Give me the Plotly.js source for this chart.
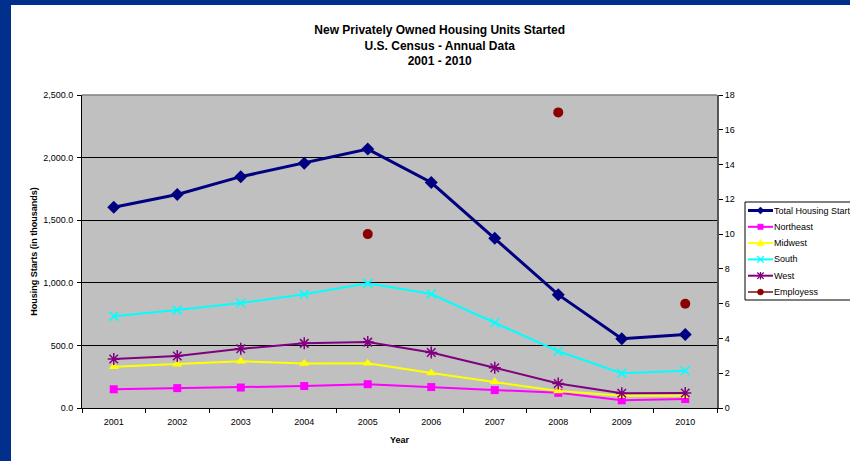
<!DOCTYPE html>
<html>
<head>
<meta charset="utf-8">
<script src="https://cdn.plot.ly/plotly-3.0.1.min.js"></script>
<style>
  html, body { margin: 0; padding: 0; background: #00308C; width: 850px; height: 461px; overflow: hidden; }
  #chart { position: absolute; left: 11px; top: 5px; width: 839px; height: 456px; background: #ffffff; }
</style>
</head>
<body>
<div id="chart"></div>
<script>
// Data (thousands of units; employees on secondary axis)
var years = ['2001','2002','2003','2004','2005','2006','2007','2008','2009','2010'];
var totalStarts = [1602.7, 1704.9, 1847.7, 1955.8, 2068.3, 1800.9, 1355.0, 905.5, 554.0, 587.0];
var northeast   = [149.5, 158.7, 163.4, 175.4, 190.1, 167.2, 142.9, 121.0, 61.5, 71.6];
var midwest     = [329.5, 349.6, 373.7, 355.6, 356.5, 279.5, 210.1, 134.9, 97.1, 97.6];
var south       = [732.0, 781.8, 838.0, 908.5, 995.5, 910.3, 681.1, 453.3, 278.1, 297.5];
var west        = [391.7, 414.8, 472.5, 516.2, 526.2, 443.9, 321.0, 196.3, 117.3, 120.2];
var employees   = [null, null, null, null, 10, null, null, 17, null, 6];
var seriesNames = ['Total Housing Starts', 'Northeast', 'Midwest', 'South', 'West', 'Employess'];

var fontFam = 'Liberation Sans, Arial, sans-serif';

var styles = [
  {line: '#000080', lw: 3, mk: '#000080', sym: 'diamond'},
  {line: '#FF00FF', lw: 2, mk: '#FF00FF', sym: 'square'},
  {line: '#FFFF00', lw: 2, mk: '#FFFF00', sym: 'triangle'},
  {line: '#00FFFF', lw: 2, mk: '#00FFFF', sym: 'x'},
  {line: '#800080', lw: 2, mk: '#800080', sym: 'star'},
  {line: '#A04848', lw: 2, mk: '#8B0000', sym: 'circle'}
];

var traces = [
  {name: seriesNames[0], x: years, y: totalStarts, type: 'scatter', mode: 'lines+markers', showlegend: false,
   line: {color: '#000080', width: 3}, marker: {symbol: 'diamond', size: 10, color: '#000080'}},
  {name: seriesNames[1], x: years, y: northeast, type: 'scatter', mode: 'lines+markers', showlegend: false,
   line: {color: '#FF00FF', width: 2}, marker: {symbol: 'square', size: 8, color: '#FF00FF'}},
  {name: seriesNames[2], x: years, y: midwest, type: 'scatter', mode: 'lines+markers', showlegend: false,
   line: {color: '#FFFF00', width: 2}, marker: {symbol: 'triangle-up', size: 9, color: '#FFFF00'}},
  {name: seriesNames[3], x: years, y: south, type: 'scatter', mode: 'lines+markers', showlegend: false,
   line: {color: '#00FFFF', width: 2}, marker: {symbol: 'x-thin-open', size: 9, color: '#00FFFF', line: {color: '#00FFFF', width: 1.5}}},
  {name: seriesNames[4], x: years, y: west, type: 'scatter', mode: 'lines+markers', showlegend: false,
   line: {color: '#800080', width: 2}, marker: {symbol: 'asterisk-open', size: 10, color: '#800080', line: {color: '#800080', width: 1.5}}},
  {name: seriesNames[5], x: years, y: employees, yaxis: 'y2', type: 'scatter', mode: 'markers', showlegend: false,
   marker: {symbol: 'circle', size: 10, color: '#8B0000'}}
];

// ---- Legend box drawn in paper coordinates (plot area: 635 x 313 px) ----
var PW = 635, PH = 313;
function fx(dx) { return dx / PW; }          // px offset from plot left -> paper
function fy(dy) { return -dy / PH; }         // px offset from plot top (downwards) -> paper (top = 1)
var legLeft = 663, legTop = 107, legBottom = 205, rowH = 16.3, firstRow = 8.5;
var shapes = [
  {type: 'line', xref: 'paper', yref: 'paper', x0: 0, x1: 1, y0: 1, y1: 1, line: {color: '#808080', width: 1.5}},
  {type: 'rect', xref: 'paper', yref: 'paper', x0: fx(legLeft), x1: fx(legLeft + 130),
   y0: 1 + fy(legBottom), y1: 1 + fy(legTop), fillcolor: '#ffffff', line: {color: '#000000', width: 1}}
];
var annotations = [];
seriesNames.forEach(function (nm, i) {
  var s = styles[i];
  var cyPx = legTop + firstRow + i * rowH;
  var cy = 1 + fy(cyPx);
  var cxPx = legLeft + 15.5;
  shapes.push({type: 'line', xref: 'paper', yref: 'paper', x0: fx(legLeft + 3), x1: fx(legLeft + 28),
    y0: cy, y1: cy, line: {color: s.line, width: s.lw}});
  function P(dx, dy) { return fx(cxPx + dx) + ',' + (1 + fy(cyPx + dy)); }
  var r = 3.2, path;
  if (s.sym === 'diamond') {
    path = 'M' + P(0, -3.6) + ' L' + P(3.6, 0) + ' L' + P(0, 3.6) + ' L' + P(-3.6, 0) + ' Z';
    shapes.push({type: 'path', xref: 'paper', yref: 'paper', path: path, fillcolor: s.mk, line: {color: s.mk, width: 0.5}});
  } else if (s.sym === 'square') {
    shapes.push({type: 'rect', xref: 'paper', yref: 'paper', x0: fx(cxPx - 2.7), x1: fx(cxPx + 2.7),
      y0: 1 + fy(cyPx + 2.7), y1: 1 + fy(cyPx - 2.7), fillcolor: s.mk, line: {color: s.mk, width: 0.5}});
  } else if (s.sym === 'triangle') {
    path = 'M' + P(0, -3.8) + ' L' + P(3.6, 2.6) + ' L' + P(-3.6, 2.6) + ' Z';
    shapes.push({type: 'path', xref: 'paper', yref: 'paper', path: path, fillcolor: s.mk, line: {color: s.mk, width: 0.5}});
  } else if (s.sym === 'x' || s.sym === 'star') {
    path = 'M' + P(-r, -r) + ' L' + P(r, r) + ' M' + P(-r, r) + ' L' + P(r, -r);
    if (s.sym === 'star') path += ' M' + P(0, -3.8) + ' L' + P(0, 3.8);
    shapes.push({type: 'path', xref: 'paper', yref: 'paper', path: path, line: {color: s.mk, width: 1.3}});
  } else if (s.sym === 'circle') {
    shapes.push({type: 'circle', xref: 'paper', yref: 'paper', x0: fx(cxPx - 3), x1: fx(cxPx + 3),
      y0: 1 + fy(cyPx + 3), y1: 1 + fy(cyPx - 3), fillcolor: s.mk, line: {color: s.mk, width: 0.5}});
  }
  annotations.push({xref: 'paper', yref: 'paper', x: fx(legLeft + 27), y: cy, xanchor: 'left', yanchor: 'middle',
    text: nm, showarrow: false, font: {family: fontFam, size: 9, color: '#000000'}});
});

var layout = {
  width: 839, height: 456,
  paper_bgcolor: '#ffffff',
  plot_bgcolor: '#C0C0C0',
  margin: {l: 71, r: 133, t: 90, b: 53, autoexpand: false},
  font: {family: fontFam, size: 9, color: '#000000'},
  title: {
    text: '<b>New Privately Owned Housing Units Started</b><br><b>U.S. Census - Annual Data</b><br><b>2001 - 2010</b>',
    font: {family: fontFam, size: 12, color: '#000000'},
    xref: 'container', x: 0.511, xanchor: 'center',
    yref: 'container', y: 0.936, yanchor: 'middle'
  },
  xaxis: {
    type: 'category', range: [-0.5, 9.5],
    tickson: 'boundaries', ticks: 'outside', ticklen: 4, tickcolor: '#000000',
    showline: true, linecolor: '#000000', linewidth: 1, mirror: false,
    showgrid: false, zeroline: false, ticklabelstandoff: 5,
    tickfont: {family: fontFam, size: 9, color: '#000000'},
    title: {text: '<b>Year</b>', font: {family: fontFam, size: 9, color: '#000000'}, standoff: 10}
  },
  yaxis: {
    range: [0, 2500], dtick: 500, tickformat: ',.1f',
    ticks: 'outside', ticklen: 4, tickcolor: '#000000',
    showline: true, linecolor: '#000000', linewidth: 1,
    showgrid: true, gridcolor: '#000000', gridwidth: 1, zeroline: false, ticklabelstandoff: 2,
    tickfont: {family: fontFam, size: 9, color: '#000000'},
    title: {text: '<b>Housing Starts (in thousands)</b>', font: {family: fontFam, size: 9, color: '#000000'}, standoff: 4}
  },
  yaxis2: {
    overlaying: 'y', side: 'right', range: [0, 18], dtick: 2,
    ticks: 'outside', ticklen: 4, tickcolor: '#000000',
    showline: true, linecolor: '#555555', linewidth: 2,
    showgrid: false, zeroline: false,
    tickfont: {family: fontFam, size: 9, color: '#000000'}
  },
  shapes: shapes,
  annotations: annotations,
  showlegend: false
};

Plotly.newPlot('chart', traces, layout, {displayModeBar: false, staticPlot: true});
</script>
</body>
</html>
